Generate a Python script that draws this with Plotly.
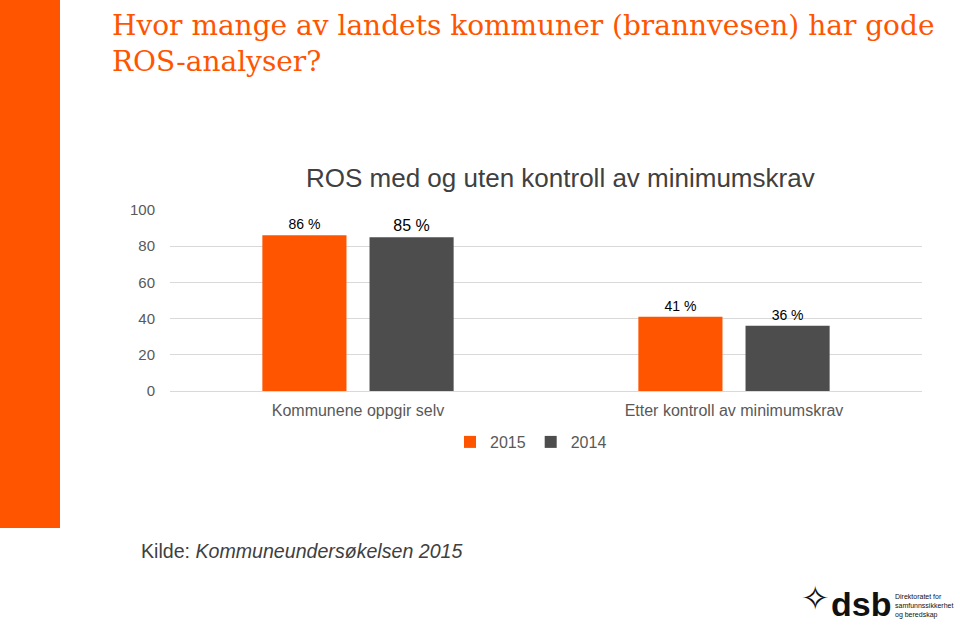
import plotly.graph_objects as go

categories = ["Kommunene oppgir selv", "Etter kontroll av minimumskrav"]
series_names = ["2015", "2014"]
values_2015 = [86, 41]
values_2014 = [85, 36]
y_ticks = [0, 20, 40, 60, 80, 100]

ORANGE = "#FF5500"
GRAY = "#4D4D4D"

W, H = 960, 628
L, R, T, B = 170, 38, 210, 237
PW, PH = W - L - R, H - T - B


def px_x(px):
    return (px - L) / PW


def px_y(py):
    return (H - B - py) / PH


fig = go.Figure()
fig.add_trace(go.Bar(
    x=categories, y=values_2015, name=series_names[0],
    marker=dict(color=ORANGE, line=dict(width=0)),
    texttemplate="%{y} %", textposition="outside",
    textfont=dict(family="Liberation Sans, Arial", size=14, color="#000000"),
    cliponaxis=False,
))
fig.add_trace(go.Bar(
    x=categories, y=values_2014, name=series_names[1],
    marker=dict(color=GRAY, line=dict(width=0)),
    texttemplate="%{y} %", textposition="outside",
    textfont=dict(family="Liberation Sans, Arial", size=[16, 14], color="#000000"),
    cliponaxis=False,
))

fig.update_layout(
    width=W, height=H,
    margin=dict(l=L, r=R, t=T, b=B, pad=0),
    paper_bgcolor="white", plot_bgcolor="white",
    barmode="group", bargap=0.43, bargroupgap=0.215,
    font=dict(family="Liberation Sans, Arial", color="#595959"),
    showlegend=True,
    legend=dict(orientation="h", x=px_x(531), xanchor="center",
                y=px_y(442), yanchor="middle",
                font=dict(size=16, color="#595959"),
                itemwidth=30, traceorder="normal", bgcolor="rgba(0,0,0,0)"),
    xaxis=dict(showgrid=False, showline=False, ticks="",
               tickfont=dict(size=16, color="#595959"), ticklabelstandoff=8),
    yaxis=dict(range=[0, 100], tickvals=y_ticks, showgrid=True,
               gridcolor="#D9D9D9", gridwidth=1, zeroline=True,
               zerolinecolor="#D9D9D9", zerolinewidth=1, showline=False,
               tickfont=dict(size=15, color="#595959"), ticklabelstandoff=14),
)

# Left orange band
fig.add_shape(type="rect", xref="paper", yref="paper",
              x0=px_x(0), x1=px_x(60), y0=px_y(528), y1=px_y(0),
              fillcolor=ORANGE, line=dict(width=0), layer="below")

annotations = [
    dict(text="Hvor mange av landets kommuner (brannvesen) har gode<br>ROS-analyser?",
         x=px_x(110), y=px_y(7), xanchor="left", yanchor="top", align="left",
         font=dict(family="DejaVu Serif", size=28, color=ORANGE)),
    dict(text="ROS med og uten kontroll av minimumskrav",
         x=px_x(560), y=px_y(178), xanchor="center", yanchor="middle",
         font=dict(family="Liberation Sans, Arial", size=26, color="#404040")),
    dict(text="Kilde: <i>Kommuneundersøkelsen 2015</i>",
         x=px_x(139), y=px_y(551), xanchor="left", yanchor="middle",
         font=dict(family="Liberation Sans, Arial", size=19.6, color="#404040")),
    dict(text="<b>dsb</b>",
         x=px_x(829), y=px_y(604), xanchor="left", yanchor="middle",
         font=dict(family="Liberation Sans", size=34, color="#111111")),
    dict(text="✧",
         x=px_x(815), y=px_y(598), xanchor="center", yanchor="middle",
         font=dict(family="DejaVu Sans", size=34, color="#111111")),
    dict(text="Direktoratet for<br>samfunnssikkerhet<br>og beredskap",
         x=px_x(893), y=px_y(606), xanchor="left", yanchor="middle", align="left",
         font=dict(family="Liberation Sans", size=7, color="#111111")),
]
for a in annotations:
    a.update(xref="paper", yref="paper", showarrow=False)
    fig.add_annotation(**a)

fig.write_html("out.html", config={"displayModeBar": False},
               post_script="document.body.style.margin='0px';document.body.style.overflow='hidden';")
